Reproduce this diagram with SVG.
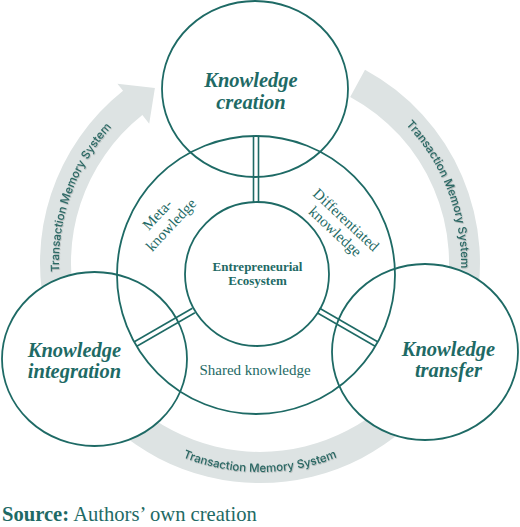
<svg xmlns="http://www.w3.org/2000/svg" width="520" height="527" viewBox="0 0 520 527">
  <style>
    .ln { fill: none; stroke: #1e6a65; stroke-width: 1.8; }
    .sep { fill: none; stroke: #1e6a65; stroke-width: 1.6; }
    .band { fill: #dde3e3; }
    .bt { font-family: Inter, "Liberation Sans", sans-serif; font-size: 11.5px; font-weight: 500; fill: #2c6864; filter: url(#sh); }
    .kt { font-family: "Liberation Serif", serif; font-size: 20.5px; font-weight: bold; font-style: italic; fill: #1e6a65; text-anchor: middle; }
    .et { font-family: "Liberation Serif", serif; font-size: 13px; font-weight: bold; fill: #1e6a65; text-anchor: middle; }
    .rt { font-family: "Liberation Serif", serif; font-size: 15px; fill: #1e6a65; text-anchor: middle; }
    .src { font-family: "Liberation Serif", serif; font-size: 20.6px; fill: #1e6a65; }
  </style>
  <defs>
    <mask id="bandMask" maskUnits="userSpaceOnUse" x="0" y="0" width="520" height="527">
      <rect x="0" y="0" width="520" height="527" fill="#fff"/>
      <ellipse cx="255" cy="89" rx="93" ry="88" fill="#000"/>
      <ellipse cx="94.5" cy="359" rx="92.5" ry="87" fill="#000"/>
      <ellipse cx="425" cy="352" rx="93" ry="88" fill="#000"/>
    </mask>
    <filter id="sh" x="-10%" y="-50%" width="120%" height="200%">
      <feDropShadow dx="0.6" dy="0.8" stdDeviation="0.6" flood-color="#000" flood-opacity="0.25"/>
    </filter>
    <path id="pLeft" d="M 62.05 297.9 A 201 201 0 0 1 130.8 109.0"/>
    <path id="pRight" d="M 386.5 106.8 A 201 201 0 0 1 458.5 294.4"/>
    <path id="pBottom" d="M 155.5 444 A 209 209 0 0 0 364.5 444"/>
  </defs>

  <g id="connectors">
    <g id="tms-bands" mask="url(#bandMask)">
      <path class="band" d="M 47.5 319.9 A 220 220 0 0 1 123.05 90.8 L 117.4 83.8 L 154.9 88.1 L 149.2 123.7 L 142.35 115.1 A 189 189 0 0 0 77.4 311.9 Z"/>
      <path class="band" d="M 365 69.7 A 220 220 0 0 1 472.5 319.9 L 442.6 311.9 A 189 189 0 0 0 350.2 96.9 Z"/>
      <path class="band" d="M 79.8 389.2 A 220 220 0 0 0 440.2 389.2 L 414.8 371.4 A 189 189 0 0 1 105.2 371.4 Z"/>
      <text class="bt"><textPath href="#pLeft" startOffset="50%" text-anchor="middle">Transaction Memory System</textPath></text>
      <text class="bt"><textPath href="#pRight" startOffset="50%" text-anchor="middle">Transaction Memory System</textPath></text>
      <text class="bt"><textPath href="#pBottom" startOffset="50%" text-anchor="middle">Transaction Memory System</textPath></text>
    </g>
    <g id="separators">
      <line class="sep" x1="253.5" y1="202.5" x2="253.5" y2="135.5"/>
      <line class="sep" x1="258.5" y1="202.5" x2="258.5" y2="135.5"/>
      <line class="sep" x1="194.9" y1="312.7" x2="136.85" y2="346.2"/>
      <line class="sep" x1="192.4" y1="308.3" x2="134.35" y2="341.8"/>
      <line class="sep" x1="317.1" y1="312.7" x2="375.15" y2="346.2"/>
      <line class="sep" x1="319.6" y1="308.3" x2="377.65" y2="341.8"/>
    </g>
  </g>

  <g id="node-ring">
    <circle class="ln" cx="256" cy="275" r="139"/>
    <g transform="translate(164.5,220) rotate(-47)">
      <text class="rt" x="-1" y="-4">Meta-</text>
      <text class="rt" x="1" y="13">knowledge</text>
    </g>
    <g transform="translate(340.25,226) rotate(43)">
      <text class="rt" x="0" y="-3.5">Differentiated</text>
      <text class="rt" x="0" y="12.5">knowledge</text>
    </g>
    <text class="rt" x="255" y="375">Shared knowledge</text>
  </g>

  <g id="node-ecosystem">
    <circle class="ln" cx="257" cy="274" r="72"/>
    <text class="et" x="257.5" y="271">Entrepreneurial</text>
    <text class="et" x="257.5" y="285">Ecosystem</text>
  </g>

  <g id="node-creation">
    <ellipse class="ln" cx="255" cy="89" rx="93" ry="88"/>
    <text class="kt" x="251" y="87">Knowledge</text>
    <text class="kt" x="251" y="109">creation</text>
  </g>

  <g id="node-integration">
    <ellipse class="ln" cx="94.5" cy="359" rx="92.5" ry="87"/>
    <text class="kt" x="74.5" y="357">Knowledge</text>
    <text class="kt" x="74.5" y="378">integration</text>
  </g>

  <g id="node-transfer">
    <ellipse class="ln" cx="425" cy="352" rx="93" ry="88"/>
    <text class="kt" x="448.5" y="356">Knowledge</text>
    <text class="kt" x="448.5" y="377">transfer</text>
  </g>

  <text class="src" x="2" y="521"><tspan font-weight="bold">Source:</tspan> Authors’ own creation</text>
</svg>
